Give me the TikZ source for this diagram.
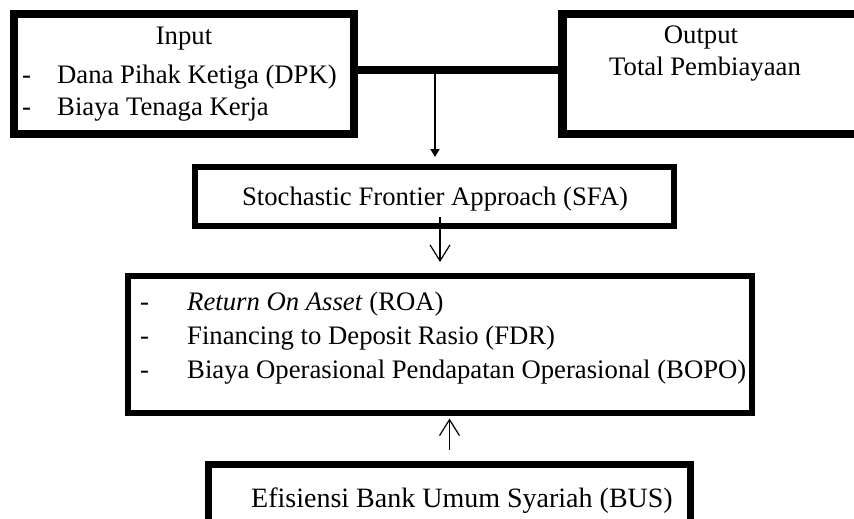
\documentclass[tikz,border=0pt]{standalone}
\usepackage{fontspec}
\setmainfont{Liberation Serif}
\usetikzlibrary{positioning,arrows.meta}

\begin{document}
\begin{tikzpicture}
  [x=1pt,y=-1pt,
   heavyBox/.style={draw,line width=8.5pt,inner sep=0pt},
   lightBox/.style={draw,line width=6pt,inner sep=0pt},
   txt/.style={inner sep=0pt,font=\fontsize{26.7}{32}\selectfont},
   bigTxt/.style={inner sep=0pt,font=\fontsize{28}{33}\selectfont},
   fillArr/.style={line width=1.5pt,-{Triangle[length=8pt,width=9pt]}},
   openArr/.style={line width=1.2pt,-{Straight Barb[length=16pt,width=20pt]}}]

  \useasboundingbox (0,0) rectangle (854,519);
  \clip (0,0) rectangle (854,519);

  % boxes
  \path (184,74)      node[heavyBox,minimum width=340pt,minimum height=120pt] (inp) {}
        (721,74)      node[heavyBox,minimum width=317pt,minimum height=120pt] (outp) {}
        (434.5,196.5) node[lightBox,minimum width=479pt,minimum height=59pt] (sfa) {}
        (439.75,344.25) node[lightBox,minimum width=624.5pt,minimum height=136.5pt] (rasio) {}
        (449.5,512)   node[lightBox,line width=7pt,minimum width=482pt,minimum height=96pt] (bus) {};

  % texts
  \node[txt,anchor=base] (inpHead) at (184,45) {Input};
  \node[txt,anchor=base west] (inpDashA) at (22,83) {-};
  \node[txt,anchor=base west] (inpItemA) at (57,83) {Dana Pihak Ketiga (DPK)};
  \node[txt,anchor=base west] (inpDashB) at (22,115) {-};
  \node[txt,anchor=base west] (inpItemB) at (57,115) {Biaya Tenaga Kerja};

  \node[txt,anchor=base] (outHead) at (701,44) {Output};
  \node[txt,anchor=base] (outItem) at (705,75) {Total Pembiayaan};

  \node[txt,anchor=base] (sfaText) at (435,205) {Stochastic Frontier Approach (SFA)};

  \node[txt,anchor=base west] (rasDashA) at (140,310) {-};
  \node[txt,anchor=base west] (rasItemA) at (187,310) {\textit{Return On Asset} (ROA)};
  \node[txt,anchor=base west] (rasDashB) at (140,344) {-};
  \node[txt,anchor=base west] (rasItemB) at (187,344) {Financing to Deposit Rasio (FDR)};
  \node[txt,anchor=base west] (rasDashC) at (140,378) {-};
  \node[txt,anchor=base west] (rasItemC) at (187,378) {Biaya Operasional Pendapatan Operasional (BOPO)};

  \node[bigTxt,anchor=base] (busText) at (462,507) {Efisiensi Bank Umum Syariah (BUS)};

  % connectors
  \coordinate (jn) at (435,70);
  \draw [line width=8pt] (inp.east |- jn) -- (outp.west |- jn);
  \draw [fillArr,shorten >=7pt] (jn) -- (jn |- sfa.north);

  \draw [openArr,shorten >=11pt] ([xshift=5.5pt,yshift=12pt]sfa.south) -- ([xshift=5.5pt]sfa.south |- rasio.north);

  \draw [openArr,shorten <=11pt,shorten >=3pt] (bus.north) -- (bus.north |- rasio.south);

\end{tikzpicture}
\end{document}
